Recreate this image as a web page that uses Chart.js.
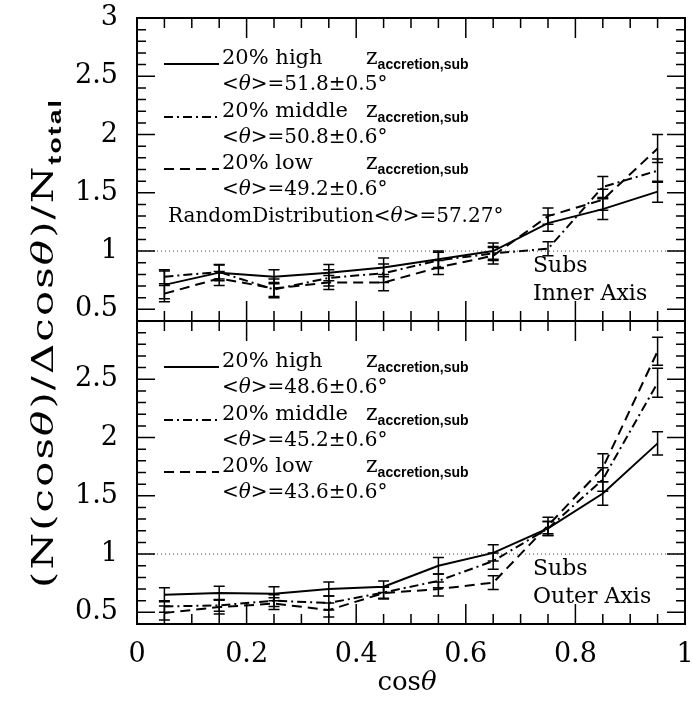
<!DOCTYPE html>
<html>
<head>
<meta charset="utf-8">
<script src="https://cdn.jsdelivr.net/npm/chart.js@4.4.0/dist/chart.umd.min.js"></script>
<style>
  html, body { margin: 0; padding: 0; background: #fff; }
  canvas { display: block; }
</style>
</head>
<body>
<canvas id="chart" width="693" height="704"></canvas>
<script>
// bin centres in cos(theta)
const cosBins = [0.05, 0.15, 0.25, 0.35, 0.45, 0.55, 0.65, 0.75, 0.85, 0.95];

// top panel: inner axis
const innerHigh    = [0.71, 0.815, 0.78, 0.815, 0.86, 0.93, 1.00, 1.24, 1.36, 1.51];
const innerHighErr = [0.12, 0.07, 0.06, 0.07, 0.08, 0.07, 0.07, 0.07, 0.09, 0.09];
const innerMid     = [0.78, 0.82, 0.67, 0.77, 0.81, 0.92, 0.98, 1.02, 1.55, 1.69];
const innerMidErr  = [0.06, 0.06, 0.06, 0.07, 0.08, 0.07, 0.06, 0.06, 0.09, 0.10];
const innerLow     = [0.635, 0.765, 0.68, 0.73, 0.73, 0.86, 0.96, 1.30, 1.44, 1.88];
const innerLowErr  = [0.07, 0.06, 0.08, 0.06, 0.07, 0.06, 0.07, 0.07, 0.09, 0.12];

// bottom panel: outer axis
const outerHigh    = [0.65, 0.665, 0.66, 0.70, 0.72, 0.90, 1.01, 1.22, 1.52, 1.95];
const outerHighErr = [0.06, 0.06, 0.06, 0.06, 0.05, 0.07, 0.07, 0.06, 0.10, 0.10];
const outerMid     = [0.55, 0.56, 0.60, 0.58, 0.67, 0.77, 0.94, 1.22, 1.64, 2.47];
const outerMidErr  = [0.05, 0.05, 0.05, 0.06, 0.05, 0.06, 0.07, 0.06, 0.10, 0.125];
const outerLow     = [0.495, 0.545, 0.575, 0.52, 0.665, 0.70, 0.755, 1.245, 1.74, 2.74];
const outerLowErr  = [0.06, 0.06, 0.05, 0.06, 0.05, 0.06, 0.06, 0.07, 0.12, 0.12];

// reference level (random distribution)
const refLine = [1, 1];
const refX = [0, 1];

// legend text
const seriesNames = ["20% high", "20% middle", "20% low"];
const innerMeans = ["=51.8\u00b10.5\u00b0", "=50.8\u00b10.6\u00b0", "=49.2\u00b10.6\u00b0"];
const outerMeans = ["=48.6\u00b10.6\u00b0", "=45.2\u00b10.6\u00b0", "=43.6\u00b10.6\u00b0"];
const randomMean = "=57.27\u00b0";
const panelNotes = [["Subs", "Inner Axis"], ["Subs", "Outer Axis"]];

const dashes = [[], [9, 4, 2, 4], [10, 6]];
const SERIF = "'DejaVu Serif', serif";

function series(vals, errs, dash, axis) {
  return {
    data: cosBins.map((c, i) => ({ x: c, y: vals[i] })),
    errors: errs,
    yAxisID: axis,
    borderColor: "#000",
    borderWidth: 2,
    borderDash: dash,
    pointRadius: 0,
    tension: 0,
    fill: false
  };
}

function reference(axis) {
  return {
    data: refX.map((x, i) => ({ x: x, y: refLine[i] })),
    yAxisID: axis,
    borderColor: "#444",
    borderWidth: 1,
    borderDash: [1, 3],
    pointRadius: 0
  };
}

function drawRich(ctx, parts, x, y, align) {
  let w = 0;
  parts.forEach(p => { ctx.font = p[1]; w += ctx.measureText(p[0]).width; });
  let cx = align === "center" ? x - w / 2 : x;
  parts.forEach(p => {
    ctx.font = p[1];
    ctx.fillText(p[0], cx, y + (p[2] || 0));
    cx += ctx.measureText(p[0]).width;
  });
  return w;
}

function richWidth(ctx, parts) {
  let w = 0;
  parts.forEach(p => { ctx.font = p[1]; w += ctx.measureText(p[0]).width; });
  return w;
}

const decorations = {
  id: "decorations",
  afterDraw(chart) {
    const ctx = chart.ctx;
    const xs = chart.scales.x;
    const area = chart.chartArea;
    ctx.save();
    ctx.strokeStyle = "#000";
    ctx.fillStyle = "#000";

    // error bars
    chart.data.datasets.forEach(ds => {
      if (!ds.errors) return;
      const ys = chart.scales[ds.yAxisID];
      ctx.lineWidth = 1.5;
      ctx.setLineDash([]);
      ds.data.forEach((p, j) => {
        const px = xs.getPixelForValue(p.x);
        const hi = ys.getPixelForValue(p.y + ds.errors[j]);
        const lo = ys.getPixelForValue(p.y - ds.errors[j]);
        ctx.beginPath();
        ctx.moveTo(px, hi); ctx.lineTo(px, lo);
        ctx.moveTo(px - 5.5, hi); ctx.lineTo(px + 5.5, hi);
        ctx.moveTo(px - 5.5, lo); ctx.lineTo(px + 5.5, lo);
        ctx.stroke();
      });
    });

    // frames and inward ticks on every side of each panel
    ["yTop", "yBot"].forEach((id, panel) => {
      const ys = chart.scales[id];
      ctx.lineWidth = 2;
      ctx.strokeRect(area.left, ys.top, area.right - area.left, ys.bottom - ys.top);
      ctx.lineWidth = 1.5;
      ctx.beginPath();
      for (let k = 5; k < 30; k++) {
        const py = ys.getPixelForValue(k / 10);
        const len = k % 5 === 0 ? 18 : 9;
        ctx.moveTo(area.left, py); ctx.lineTo(area.left + len, py);
        ctx.moveTo(area.right, py); ctx.lineTo(area.right - len, py);
      }
      for (let k = 1; k < 20; k++) {
        const px = xs.getPixelForValue(k / 20);
        const len = k % 4 === 0 ? 20 : 10;
        ctx.moveTo(px, ys.top); ctx.lineTo(px, ys.top + len);
        ctx.moveTo(px, ys.bottom); ctx.lineTo(px, ys.bottom - len);
      }
      ctx.stroke();

      // legend
      const means = panel === 0 ? innerMeans : outerMeans;
      const rows = [46, 72, 99, 125, 151, 177, 204];
      ctx.textBaseline = "alphabetic";
      for (let s = 0; s < 3; s++) {
        const by = ys.top + rows[s * 2];
        ctx.lineWidth = 2;
        ctx.setLineDash(dashes[s]);
        ctx.beginPath();
        ctx.moveTo(164, by); ctx.lineTo(219, by);
        ctx.stroke();
        ctx.setLineDash([]);
        ctx.font = "21px " + SERIF;
        ctx.fillText(seriesNames[s], 222, by);
        drawRich(ctx, [["z", "22px " + SERIF], ["accretion,sub", "bold 14px 'Liberation Sans', sans-serif", 5]], 366, by);
        drawRich(ctx, [["<", "20px " + SERIF], ["\u03b8", "italic 20px " + SERIF], [">" + means[s], "20px " + SERIF]], 222, ys.top + rows[s * 2 + 1]);
      }
      if (panel === 0) {
        drawRich(ctx, [["RandomDistribution<", "20px " + SERIF], ["\u03b8", "italic 20px " + SERIF], [">" + randomMean, "20px " + SERIF]], 168, ys.top + rows[6]);
      }
      ctx.font = "22px " + SERIF;
      ctx.fillText(panelNotes[panel][0], 533, ys.bottom - 49);
      ctx.fillText(panelNotes[panel][1], 533, ys.bottom - 21);
    });

    // y title, spread along its length like the wide plotter font
    const yTitle = [
      ["(N(cos", "30px " + SERIF], ["\u03b8", "italic 30px " + SERIF],
      [")/\u0394cos", "30px " + SERIF], ["\u03b8", "italic 30px " + SERIF],
      [")/N", "30px " + SERIF], ["total", "bold 19px 'Liberation Sans', sans-serif", 8]
    ];
    ctx.save();
    ctx.letterSpacing = "1.5px";
    const tw = richWidth(ctx, yTitle);
    ctx.translate(42, 343);
    ctx.rotate(-Math.PI / 2);
    ctx.scale(490 / tw, 1);
    drawRich(ctx, yTitle, 0, 11, "center");
    ctx.restore();
    drawRich(ctx, [["cos", "26px " + SERIF], ["\u03b8", "italic 26px " + SERIF]], 407, 690, "center");
    ctx.restore();
  }
};

const tickFont = { family: "DejaVu Serif", size: 27 };

function noPadY(s) { s.width = 137; s.paddingTop = 0; s.paddingBottom = 0; }

new Chart(document.getElementById("chart"), {
  type: "line",
  data: {
    datasets: [
      reference("yTop"),
      series(innerHigh, innerHighErr, dashes[0], "yTop"),
      series(innerMid, innerMidErr, dashes[1], "yTop"),
      series(innerLow, innerLowErr, dashes[2], "yTop"),
      reference("yBot"),
      series(outerHigh, outerHighErr, dashes[0], "yBot"),
      series(outerMid, outerMidErr, dashes[1], "yBot"),
      series(outerLow, outerLowErr, dashes[2], "yBot")
    ]
  },
  options: {
    responsive: false,
    animation: false,
    devicePixelRatio: 1,
    layout: { padding: { top: 18, right: 8, left: 0, bottom: 0 } },
    plugins: { legend: { display: false }, tooltip: { enabled: false } },
    scales: {
      x: {
        type: "linear", min: 0, max: 1, position: "bottom",
        grid: { display: false, drawTicks: false }, border: { display: false },
        ticks: { stepSize: 0.2, padding: 15, color: "#000", font: tickFont, maxRotation: 0, autoSkip: false,
                 callback: v => String(+v.toFixed(1)) },
        afterFit: s => { s.height = 80; s.paddingLeft = 0; s.paddingRight = 0; }
      },
      yBot: {
        type: "linear", position: "left", stack: "panels", stackWeight: 1,
        min: 0.4, max: 3,
        grid: { display: false, drawTicks: false }, border: { display: false },
        ticks: { stepSize: 0.5, includeBounds: false, padding: 19, color: "#000", font: tickFont, autoSkip: false,
                 callback: v => (v > 2.9 ? "" : String(+v.toFixed(1))) },
        afterFit: noPadY
      },
      yTop: {
        type: "linear", position: "left", stack: "panels", stackWeight: 1,
        min: 0.4, max: 3,
        grid: { display: false, drawTicks: false }, border: { display: false },
        ticks: { stepSize: 0.5, includeBounds: false, padding: 19, color: "#000", font: tickFont, autoSkip: false,
                 callback: v => String(+v.toFixed(1)) },
        afterFit: noPadY
      }
    }
  },
  plugins: [decorations]
});
</script>
</body>
</html>
